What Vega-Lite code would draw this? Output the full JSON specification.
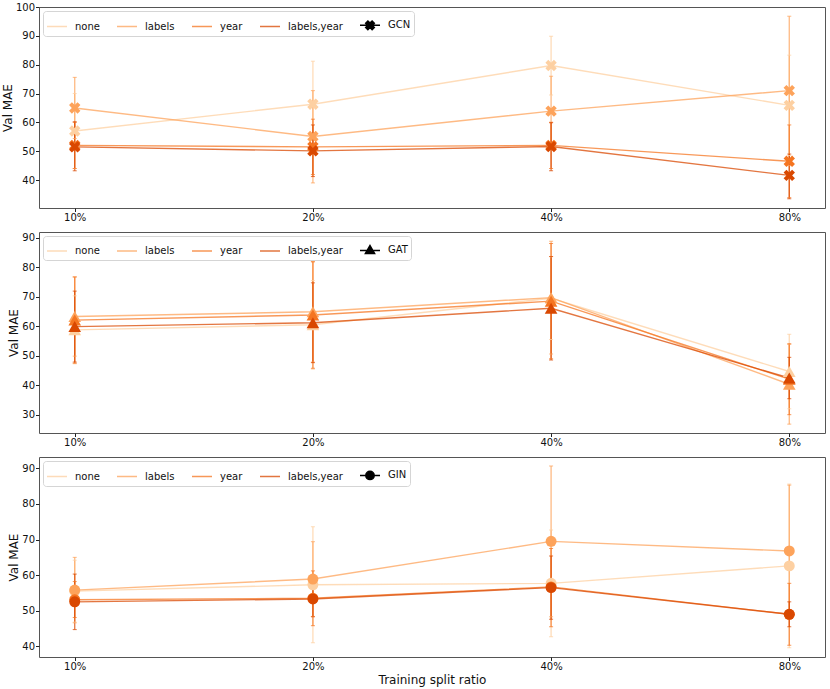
{
  "$schema": "https://vega.github.io/schema/vega-lite/v6.json",
  "padding": {"left": 0, "top": 1, "right": 4, "bottom": 1},
  "data": {
    "values": [
      {"model": "GCN", "split": "10%", "series": "none", "mean": 57.0, "lo": 44.0, "hi": 70.0},
      {"model": "GCN", "split": "10%", "series": "labels", "mean": 65.0, "lo": 54.4, "hi": 75.6},
      {"model": "GCN", "split": "10%", "series": "year", "mean": 52.0, "lo": 44.0, "hi": 60.0},
      {"model": "GCN", "split": "10%", "series": "labels,year", "mean": 51.5, "lo": 43.2, "hi": 60.2},
      {"model": "GCN", "split": "20%", "series": "none", "mean": 66.3, "lo": 51.8, "hi": 81.2},
      {"model": "GCN", "split": "20%", "series": "labels", "mean": 55.1, "lo": 39.0, "hi": 71.0},
      {"model": "GCN", "split": "20%", "series": "year", "mean": 51.5, "lo": 41.9, "hi": 61.1},
      {"model": "GCN", "split": "20%", "series": "labels,year", "mean": 50.1, "lo": 41.2, "hi": 59.1},
      {"model": "GCN", "split": "40%", "series": "none", "mean": 79.7, "lo": 69.5, "hi": 89.9},
      {"model": "GCN", "split": "40%", "series": "labels", "mean": 63.9, "lo": 52.0, "hi": 76.0},
      {"model": "GCN", "split": "40%", "series": "year", "mean": 52.0, "lo": 44.0, "hi": 60.0},
      {"model": "GCN", "split": "40%", "series": "labels,year", "mean": 51.6, "lo": 43.2, "hi": 59.9},
      {"model": "GCN", "split": "80%", "series": "none", "mean": 65.9, "lo": 48.5, "hi": 83.3},
      {"model": "GCN", "split": "80%", "series": "labels", "mean": 71.0, "lo": 45.0, "hi": 96.8},
      {"model": "GCN", "split": "80%", "series": "year", "mean": 46.5, "lo": 33.9, "hi": 59.1},
      {"model": "GCN", "split": "80%", "series": "labels,year", "mean": 41.6, "lo": 33.5, "hi": 49.0},
      {"model": "GAT", "split": "10%", "series": "none", "mean": 58.8, "lo": 47.3, "hi": 70.3},
      {"model": "GAT", "split": "10%", "series": "labels", "mean": 63.3, "lo": 49.9, "hi": 76.7},
      {"model": "GAT", "split": "10%", "series": "year", "mean": 62.1, "lo": 47.5, "hi": 76.7},
      {"model": "GAT", "split": "10%", "series": "labels,year", "mean": 59.9, "lo": 47.9, "hi": 71.9},
      {"model": "GAT", "split": "20%", "series": "none", "mean": 60.5, "lo": 45.5, "hi": 75.5},
      {"model": "GAT", "split": "20%", "series": "labels", "mean": 64.9, "lo": 47.9, "hi": 81.9},
      {"model": "GAT", "split": "20%", "series": "year", "mean": 63.8, "lo": 45.8, "hi": 81.8},
      {"model": "GAT", "split": "20%", "series": "labels,year", "mean": 61.2, "lo": 47.7, "hi": 74.7},
      {"model": "GAT", "split": "40%", "series": "none", "mean": 69.5, "lo": 55.5, "hi": 83.5},
      {"model": "GAT", "split": "40%", "series": "labels", "mean": 69.7, "lo": 50.6, "hi": 88.8},
      {"model": "GAT", "split": "40%", "series": "year", "mean": 68.5, "lo": 49.0, "hi": 88.0},
      {"model": "GAT", "split": "40%", "series": "labels,year", "mean": 66.1, "lo": 48.6, "hi": 83.6},
      {"model": "GAT", "split": "80%", "series": "none", "mean": 44.7, "lo": 32.1, "hi": 57.3},
      {"model": "GAT", "split": "80%", "series": "labels", "mean": 40.4, "lo": 26.9, "hi": 53.9},
      {"model": "GAT", "split": "80%", "series": "year", "mean": 42.1, "lo": 30.1, "hi": 54.1},
      {"model": "GAT", "split": "80%", "series": "labels,year", "mean": 42.5, "lo": 35.5, "hi": 49.5},
      {"model": "GIN", "split": "10%", "series": "none", "mean": 55.5, "lo": 46.8, "hi": 64.2},
      {"model": "GIN", "split": "10%", "series": "labels", "mean": 55.8, "lo": 46.6, "hi": 65.0},
      {"model": "GIN", "split": "10%", "series": "year", "mean": 53.1, "lo": 48.1, "hi": 58.2},
      {"model": "GIN", "split": "10%", "series": "labels,year", "mean": 52.5, "lo": 44.7, "hi": 60.3},
      {"model": "GIN", "split": "20%", "series": "none", "mean": 57.3, "lo": 41.0, "hi": 73.6},
      {"model": "GIN", "split": "20%", "series": "labels", "mean": 58.9, "lo": 48.4, "hi": 69.4},
      {"model": "GIN", "split": "20%", "series": "year", "mean": 53.5, "lo": 45.8, "hi": 61.2},
      {"model": "GIN", "split": "20%", "series": "labels,year", "mean": 53.3, "lo": 48.3, "hi": 58.3},
      {"model": "GIN", "split": "40%", "series": "none", "mean": 57.7, "lo": 42.7, "hi": 72.7},
      {"model": "GIN", "split": "40%", "series": "labels", "mean": 69.5, "lo": 48.3, "hi": 90.7},
      {"model": "GIN", "split": "40%", "series": "year", "mean": 56.7, "lo": 45.5, "hi": 67.5},
      {"model": "GIN", "split": "40%", "series": "labels,year", "mean": 56.5, "lo": 47.6, "hi": 65.4},
      {"model": "GIN", "split": "80%", "series": "none", "mean": 62.6, "lo": 39.6, "hi": 85.6},
      {"model": "GIN", "split": "80%", "series": "labels", "mean": 66.8, "lo": 48.3, "hi": 85.3},
      {"model": "GIN", "split": "80%", "series": "year", "mean": 49.0, "lo": 40.3, "hi": 57.7},
      {"model": "GIN", "split": "80%", "series": "labels,year", "mean": 49.0, "lo": 45.5, "hi": 52.5}
    ]
  },
  "spacing": 8,
  "resolve": {"scale": {"color": "independent", "y": "independent"}},
  "vconcat": [
    {
      "width": 786,
      "height": 201,
      "transform": [{"filter": "datum.model === 'GCN'"}],
      "encoding": {
        "x": {"field": "split", "type": "ordinal", "sort": ["10%", "20%", "40%", "80%"], "scale": {"type": "point", "padding": 0.15}, "axis": {"title": null, "labelAngle": 0}},
        "color": {
          "field": "series",
          "type": "nominal",
          "scale": {"domain": ["none", "labels", "year", "labels,year", "GCN"], "range": ["#fdd0a2", "#fda35b", "#f57521", "#d94801", "black"]},
          "legend": {
            "symbolType": {"expr": "datum.label === 'GCN' ? 'M-1,0H1M0.21,-0.43L0.43,-0.21L0.22,0L0.43,0.21L0.21,0.43L0,0.22L-0.21,0.43L-0.43,0.21L-0.22,0L-0.43,-0.21L-0.21,-0.43L0,-0.22Z' : 'stroke'"},
            "symbolFillColor": {"expr": "datum.label === 'GCN' ? 'black' : 'transparent'"},
            "symbolOpacity": {"expr": "datum.label === 'GCN' ? 1 : 0.75"}
          }
        }
      },
      "layer": [
        {"mark": {"type": "rule", "strokeWidth": 1.3, "opacity": 0.75}, "encoding": {"y": {"field": "lo", "type": "quantitative", "scale": {"domain": [30.3, 100], "nice": false, "zero": false}, "axis": {"title": "Val MAE", "values": [40, 50, 60, 70, 80, 90, 100]}}, "y2": {"field": "hi"}}},
        {"mark": {"type": "tick", "size": 4, "thickness": 1, "opacity": 0.75}, "encoding": {"y": {"field": "lo", "type": "quantitative", "scale": {"domain": [30.3, 100], "nice": false, "zero": false}, "axis": {"title": "Val MAE", "values": [40, 50, 60, 70, 80, 90, 100]}}}},
        {"mark": {"type": "tick", "size": 4, "thickness": 1, "opacity": 0.75}, "encoding": {"y": {"field": "hi", "type": "quantitative", "scale": {"domain": [30.3, 100], "nice": false, "zero": false}, "axis": {"title": "Val MAE", "values": [40, 50, 60, 70, 80, 90, 100]}}}},
        {"mark": {"type": "line", "strokeWidth": 1.4, "opacity": 0.75}, "encoding": {"y": {"field": "mean", "type": "quantitative", "scale": {"domain": [30.3, 100], "nice": false, "zero": false}, "axis": {"title": "Val MAE", "values": [40, 50, 60, 70, 80, 90, 100]}}}},
        {"mark": {"type": "point", "shape": "M0.47,-0.95L0.95,-0.47L0.48,0L0.95,0.47L0.47,0.95L0,0.48L-0.47,0.95L-0.95,0.47L-0.48,0L-0.95,-0.47L-0.47,-0.95L0,-0.48Z", "size": 144, "filled": true, "opacity": 1}, "encoding": {"y": {"field": "mean", "type": "quantitative", "scale": {"domain": [30.3, 100], "nice": false, "zero": false}, "axis": {"title": "Val MAE", "values": [40, 50, 60, 70, 80, 90, 100]}}}}
      ]
    },
    {
      "width": 786,
      "height": 201,
      "transform": [{"filter": "datum.model === 'GAT'"}],
      "encoding": {
        "x": {"field": "split", "type": "ordinal", "sort": ["10%", "20%", "40%", "80%"], "scale": {"type": "point", "padding": 0.15}, "axis": {"title": null, "labelAngle": 0}},
        "color": {
          "field": "series",
          "type": "nominal",
          "scale": {"domain": ["none", "labels", "year", "labels,year", "GAT"], "range": ["#fdd0a2", "#fda35b", "#f57521", "#d94801", "black"]},
          "legend": {
            "symbolType": {"expr": "datum.label === 'GAT' ? 'M-1,0H1M0,-0.48L0.46,0.32L-0.46,0.32Z' : 'stroke'"},
            "symbolFillColor": {"expr": "datum.label === 'GAT' ? 'black' : 'transparent'"},
            "symbolOpacity": {"expr": "datum.label === 'GAT' ? 1 : 0.75"}
          }
        }
      },
      "layer": [
        {"mark": {"type": "rule", "strokeWidth": 1.3, "opacity": 0.75}, "encoding": {"y": {"field": "lo", "type": "quantitative", "scale": {"domain": [23.9, 91.9], "nice": false, "zero": false}, "axis": {"title": "Val MAE", "values": [30, 40, 50, 60, 70, 80, 90]}}, "y2": {"field": "hi"}}},
        {"mark": {"type": "tick", "size": 4, "thickness": 1, "opacity": 0.75}, "encoding": {"y": {"field": "lo", "type": "quantitative", "scale": {"domain": [23.9, 91.9], "nice": false, "zero": false}, "axis": {"title": "Val MAE", "values": [30, 40, 50, 60, 70, 80, 90]}}}},
        {"mark": {"type": "tick", "size": 4, "thickness": 1, "opacity": 0.75}, "encoding": {"y": {"field": "hi", "type": "quantitative", "scale": {"domain": [23.9, 91.9], "nice": false, "zero": false}, "axis": {"title": "Val MAE", "values": [30, 40, 50, 60, 70, 80, 90]}}}},
        {"mark": {"type": "line", "strokeWidth": 1.4, "opacity": 0.75}, "encoding": {"y": {"field": "mean", "type": "quantitative", "scale": {"domain": [23.9, 91.9], "nice": false, "zero": false}, "axis": {"title": "Val MAE", "values": [30, 40, 50, 60, 70, 80, 90]}}}},
        {"mark": {"type": "point", "shape": "triangle-up", "size": 160, "filled": true, "opacity": 1}, "encoding": {"y": {"field": "mean", "type": "quantitative", "scale": {"domain": [23.9, 91.9], "nice": false, "zero": false}, "axis": {"title": "Val MAE", "values": [30, 40, 50, 60, 70, 80, 90]}}}}
      ]
    },
    {
      "width": 786,
      "height": 200,
      "transform": [{"filter": "datum.model === 'GIN'"}],
      "encoding": {
        "x": {"field": "split", "type": "ordinal", "sort": ["10%", "20%", "40%", "80%"], "scale": {"type": "point", "padding": 0.15}, "axis": {"title": "Training split ratio", "labelAngle": 0, "titlePadding": 3}},
        "color": {
          "field": "series",
          "type": "nominal",
          "scale": {"domain": ["none", "labels", "year", "labels,year", "GIN"], "range": ["#fdd0a2", "#fda35b", "#f57521", "#d94801", "black"]},
          "legend": {
            "symbolType": {"expr": "datum.label === 'GIN' ? 'M-1,0H1M-0.42,0A0.42,0.42,0,1,0,0.42,0A0.42,0.42,0,1,0,-0.42,0Z' : 'stroke'"},
            "symbolFillColor": {"expr": "datum.label === 'GIN' ? 'black' : 'transparent'"},
            "symbolOpacity": {"expr": "datum.label === 'GIN' ? 1 : 0.75"}
          }
        }
      },
      "layer": [
        {"mark": {"type": "rule", "strokeWidth": 1.3, "opacity": 0.75}, "encoding": {"y": {"field": "lo", "type": "quantitative", "scale": {"domain": [37, 93.2], "nice": false, "zero": false}, "axis": {"title": "Val MAE", "values": [40, 50, 60, 70, 80, 90]}}, "y2": {"field": "hi"}}},
        {"mark": {"type": "tick", "size": 4, "thickness": 1, "opacity": 0.75}, "encoding": {"y": {"field": "lo", "type": "quantitative", "scale": {"domain": [37, 93.2], "nice": false, "zero": false}, "axis": {"title": "Val MAE", "values": [40, 50, 60, 70, 80, 90]}}}},
        {"mark": {"type": "tick", "size": 4, "thickness": 1, "opacity": 0.75}, "encoding": {"y": {"field": "hi", "type": "quantitative", "scale": {"domain": [37, 93.2], "nice": false, "zero": false}, "axis": {"title": "Val MAE", "values": [40, 50, 60, 70, 80, 90]}}}},
        {"mark": {"type": "line", "strokeWidth": 1.4, "opacity": 0.75}, "encoding": {"y": {"field": "mean", "type": "quantitative", "scale": {"domain": [37, 93.2], "nice": false, "zero": false}, "axis": {"title": "Val MAE", "values": [40, 50, 60, 70, 80, 90]}}}},
        {"mark": {"type": "point", "shape": "circle", "size": 120, "filled": true, "opacity": 1}, "encoding": {"y": {"field": "mean", "type": "quantitative", "scale": {"domain": [37, 93.2], "nice": false, "zero": false}, "axis": {"title": "Val MAE", "values": [40, 50, 60, 70, 80, 90]}}}}
      ]
    }
  ],
  "config": {
    "font": "DejaVu Sans",
    "view": {"stroke": "#555", "strokeWidth": 1},
    "axis": {"domain": false, "grid": false, "tickColor": "#222", "tickSize": 3.5, "labelPadding": 1, "labelFontSize": 10, "labelColor": "#111", "titleFontSize": 12, "titleFontWeight": "normal", "titleColor": "#111"},
    "axisY": {"titlePadding": 1},
    "legend": {
      "orient": "top-left",
      "offset": 4,
      "direction": "horizontal",
      "columns": 5,
      "title": null,
      "labelFontSize": 10,
      "labelColor": "#111",
      "labelLimit": 0,
      "symbolType": "stroke",
      "symbolSize": 400,
      "symbolStrokeWidth": 1.5,
      "columnPadding": 14,
      "labelOffset": 7,
      "padding": 3,
      "strokeColor": "#d5d5d5",
      "fillColor": "rgba(255,255,255,0.8)",
      "cornerRadius": 3
    }
  }
}
